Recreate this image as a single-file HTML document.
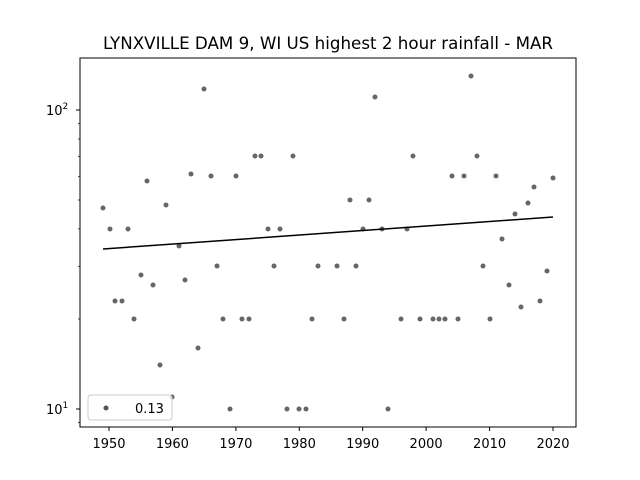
<!DOCTYPE html><html><head><meta charset="utf-8"><style>body{margin:0;background:#fff}svg{display:block}text{font-family:"DejaVu Sans","Liberation Sans",sans-serif;fill:#000}</style></head><body>
<svg width="640" height="480" xmlns="http://www.w3.org/2000/svg">
<rect width="640" height="480" fill="#fff"/>
<text x="328" y="49" font-size="16.7" text-anchor="middle">LYNXVILLE DAM 9, WI US highest 2 hour rainfall - MAR</text>
<g fill="#555" fill-opacity="0.9">
<circle cx="103" cy="208" r="2.5"/><circle cx="110" cy="229" r="2.5"/><circle cx="115" cy="301" r="2.5"/><circle cx="122" cy="301" r="2.5"/><circle cx="128" cy="229" r="2.5"/><circle cx="134" cy="319" r="2.5"/><circle cx="141" cy="275" r="2.5"/><circle cx="147" cy="181" r="2.5"/><circle cx="153" cy="285" r="2.5"/><circle cx="160" cy="365" r="2.5"/><circle cx="166" cy="205" r="2.5"/><circle cx="172" cy="397" r="2.5"/><circle cx="179" cy="246" r="2.5"/><circle cx="185" cy="280" r="2.5"/><circle cx="191" cy="174" r="2.5"/><circle cx="198" cy="348" r="2.5"/><circle cx="204" cy="89" r="2.5"/><circle cx="211" cy="176" r="2.5"/><circle cx="217" cy="266" r="2.5"/><circle cx="223" cy="319" r="2.5"/><circle cx="230" cy="409" r="2.5"/><circle cx="236" cy="176" r="2.5"/><circle cx="242" cy="319" r="2.5"/><circle cx="249" cy="319" r="2.5"/><circle cx="255" cy="156" r="2.5"/><circle cx="261" cy="156" r="2.5"/><circle cx="268" cy="229" r="2.5"/><circle cx="274" cy="266" r="2.5"/><circle cx="280" cy="229" r="2.5"/><circle cx="287" cy="409" r="2.5"/><circle cx="293" cy="156" r="2.5"/><circle cx="299" cy="409" r="2.5"/><circle cx="306" cy="409" r="2.5"/><circle cx="312" cy="319" r="2.5"/><circle cx="318" cy="266" r="2.5"/><circle cx="337" cy="266" r="2.5"/><circle cx="344" cy="319" r="2.5"/><circle cx="350" cy="200" r="2.5"/><circle cx="356" cy="266" r="2.5"/><circle cx="363" cy="229" r="2.5"/><circle cx="369" cy="200" r="2.5"/><circle cx="375" cy="97" r="2.5"/><circle cx="382" cy="229" r="2.5"/><circle cx="388" cy="409" r="2.5"/><circle cx="401" cy="319" r="2.5"/><circle cx="407" cy="229" r="2.5"/><circle cx="413" cy="156" r="2.5"/><circle cx="420" cy="319" r="2.5"/><circle cx="433" cy="319" r="2.5"/><circle cx="439" cy="319" r="2.5"/><circle cx="445" cy="319" r="2.5"/><circle cx="452" cy="176" r="2.5"/><circle cx="458" cy="319" r="2.5"/><circle cx="464" cy="176" r="2.5"/><circle cx="471" cy="76" r="2.5"/><circle cx="477" cy="156" r="2.5"/><circle cx="483" cy="266" r="2.5"/><circle cx="490" cy="319" r="2.5"/><circle cx="496" cy="176" r="2.5"/><circle cx="502" cy="239" r="2.5"/><circle cx="509" cy="285" r="2.5"/><circle cx="515" cy="214" r="2.5"/><circle cx="521" cy="307" r="2.5"/><circle cx="528" cy="203" r="2.5"/><circle cx="534" cy="187" r="2.5"/><circle cx="540" cy="301" r="2.5"/><circle cx="547" cy="271" r="2.5"/><circle cx="553" cy="178" r="2.5"/>
</g>
<line x1="103" y1="249" x2="553" y2="217" stroke="#000" stroke-width="1.5"/>
<rect x="80" y="58" width="496" height="369" fill="none" stroke="#000" stroke-width="1"/>
<g stroke="#000" stroke-width="1">
<line x1="109" y1="427" x2="109" y2="431"/><line x1="172.4" y1="427" x2="172.4" y2="431"/><line x1="235.9" y1="427" x2="235.9" y2="431"/><line x1="299.3" y1="427" x2="299.3" y2="431"/><line x1="362.7" y1="427" x2="362.7" y2="431"/><line x1="426.1" y1="427" x2="426.1" y2="431"/><line x1="489.6" y1="427" x2="489.6" y2="431"/><line x1="553" y1="427" x2="553" y2="431"/>
<line x1="76" y1="110" x2="80" y2="110"/><line x1="76" y1="409" x2="80" y2="409"/>
<g stroke-width="0.7">
<line x1="78" y1="422.7" x2="80" y2="422.7"/><line x1="78" y1="319" x2="80" y2="319"/><line x1="78" y1="266.3" x2="80" y2="266.3"/><line x1="78" y1="228.9" x2="80" y2="228.9"/><line x1="78" y1="200" x2="80" y2="200"/><line x1="78" y1="176.3" x2="80" y2="176.3"/><line x1="78" y1="156.3" x2="80" y2="156.3"/><line x1="78" y1="139" x2="80" y2="139"/><line x1="78" y1="123.7" x2="80" y2="123.7"/>
</g></g>
<g font-size="13" text-anchor="middle">
<text x="109" y="448">1950</text><text x="172.4" y="448">1960</text><text x="235.9" y="448">1970</text><text x="299.3" y="448">1980</text><text x="362.7" y="448">1990</text><text x="426.1" y="448">2000</text><text x="489.6" y="448">2010</text><text x="553" y="448">2020</text>
</g>
<text x="46" y="115" font-size="13">10<tspan font-size="9" dy="-6">2</tspan></text>
<text x="46" y="414" font-size="13">10<tspan font-size="9" dy="-6">1</tspan></text>
<rect x="88" y="395" width="84" height="25" rx="3" fill="#fff" fill-opacity="0.8" stroke="#ccc"/>
<circle cx="106" cy="408" r="2.5" fill="#555"/>
<text x="135" y="413" font-size="13">0.13</text>
</svg></body></html>
